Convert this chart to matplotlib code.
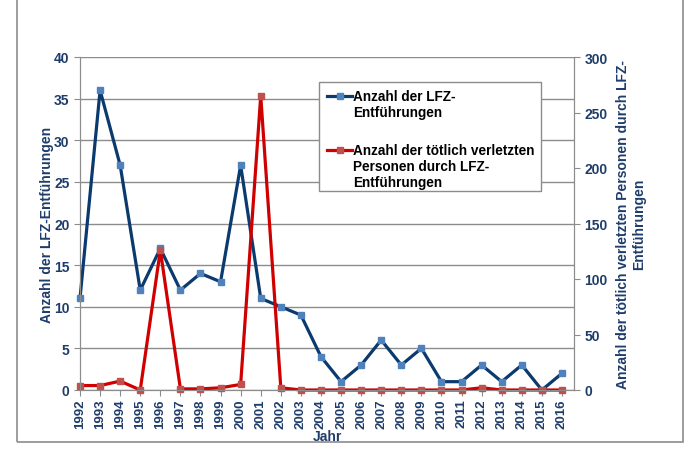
import matplotlib.pyplot as plt
from matplotlib.patches import Rectangle
from matplotlib.lines import Line2D

# Daten
jahre = list(range(1992, 2017))
entfuehrungen = [11, 36, 27, 12, 17, 12, 14, 13, 27, 11, 10, 9, 4, 1, 3, 6, 3, 5,
                 1, 1, 3, 1, 3, 0, 2]
todesopfer = [4, 4, 8, 0, 126, 1, 1, 2, 5, 265, 2, 0, 0, 0, 0, 0, 0, 0,
              0, 0, 2, 0, 0, 0, 0]
label_blau = 'Anzahl der LFZ-\nEntführungen'
label_rot = 'Anzahl der tötlich verletzten\nPersonen durch LFZ-\nEntführungen'

text_blau = '#1F3D6B'
linie_blau = '#0B3A6E'
marker_blau = '#4F81BD'
linie_rot = '#D00000'
marker_rot = '#C0504D'
grau = '#8C8C8C'

plt.rcParams['font.family'] = ['Liberation Sans', 'DejaVu Sans']
plt.rcParams['font.weight'] = 'bold'

W, H = 691, 452
fig = plt.figure(figsize=(W / 100, H / 100), dpi=100)


def fx(px):
    return px / W


def fy(py):
    return 1 - py / H


fig.patches.append(Rectangle((fx(17), fy(443)), 666 / W, 1.0, transform=fig.transFigure,
                             fill=False, edgecolor=grau, linewidth=1.2))

ax = fig.add_axes([fx(80), fy(391), 494 / W, 333 / H])
ax2 = ax.twinx()

ax.plot(jahre, entfuehrungen, color=linie_blau, linewidth=2.3, marker='s',
        markersize=5, markerfacecolor=marker_blau, markeredgecolor=marker_blau,
        clip_on=False)
ax2.plot(jahre, todesopfer, color=linie_rot, linewidth=2.3, marker='s',
         markersize=5, markerfacecolor=marker_rot, markeredgecolor=marker_rot,
         clip_on=False)

ax.set_xlim(1992, 2016.6)
ax.set_ylim(0, 40)
ax2.set_ylim(0, 300)
ax.set_yticks(range(0, 41, 5))
ax2.set_yticks(range(0, 301, 50))
ax.set_xticks(jahre)
ax.set_xticklabels([str(j) for j in jahre], rotation=90)

ax.grid(axis='y', color=grau, linewidth=1)
ax.set_axisbelow(True)

for a in (ax, ax2):
    a.spines['top'].set_visible(False)
    for s in ('left', 'right', 'bottom'):
        a.spines[s].set_color(grau)
    a.tick_params(colors=grau, labelcolor=text_blau, labelsize=10, length=4)

ax.tick_params(axis='x', labelsize=9.5, pad=2)

ax.set_ylabel('Anzahl der LFZ-Entführungen', color=text_blau, fontsize=10,
              fontweight='bold', labelpad=0)
ax2.set_ylabel('Anzahl der tötlich verletzten Personen durch LFZ-\nEntführungen',
               color=text_blau, fontsize=10, fontweight='bold', labelpad=6)
ax.set_xlabel('Jahr', color=text_blau, fontsize=10, fontweight='bold', labelpad=1)

# Legende (Excel-Stil: Symbol auf Höhe der ersten Textzeile)
fig.add_artist(Rectangle((fx(319), fy(192)), 222 / W, 109 / H, transform=fig.transFigure,
                         facecolor='white', edgecolor=grau, linewidth=1, zorder=3))
for y0, text, lc, mc in [(96.5, label_blau, linie_blau, marker_blau),
                         (150.5, label_rot, linie_rot, marker_rot)]:
    fig.add_artist(Line2D([fx(327), fx(339.5), fx(352)], [fy(y0)] * 3,
                          transform=fig.transFigure, color=lc, linewidth=2.3,
                          marker='s', markersize=5, markevery=[1],
                          markerfacecolor=mc, markeredgecolor=mc, zorder=4))
    fig.text(fx(353), fy(y0 - 6.5), text, ha='left', va='top', fontsize=9.8,
             fontweight='bold', color='black', linespacing=1.18, zorder=4)

plt.savefig('out.png', dpi=100)
